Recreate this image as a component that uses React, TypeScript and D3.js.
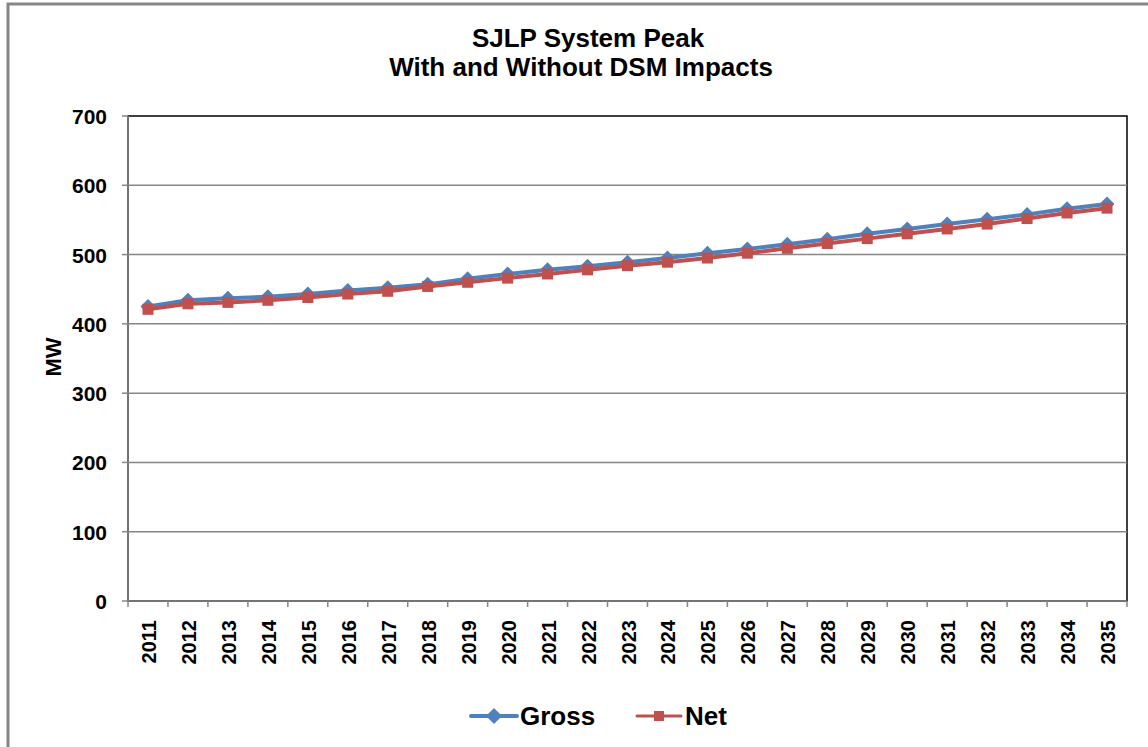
import React from "react";
import * as d3 from "d3";

const years = ["2011","2012","2013","2014","2015","2016","2017","2018","2019","2020","2021","2022","2023","2024","2025","2026","2027","2028","2029","2030","2031","2032","2033","2034","2035"];
const gross = [425,434,437,439,443,448,452,457,465,472,478,483,489,495,502,508,515,522,530,537,544,551,558,566,573];
const net = [421,429,431,434,438,443,447,454,460,466,472,478,484,489,495,502,509,516,523,530,537,544,552,560,567];
const yTicks = [0,100,200,300,400,500,600,700];

const W = 1148, H = 747;
const L = 128, R = 1127, T = 116, B = 601;
const FONT = "'Liberation Sans', Arial, sans-serif";
const BLUE = "#4F81BD";
const RED = "#C0504D";

export default function App() {
  const x = d3.scaleBand<string>().domain(years).range([L, R]);
  const y = d3.scaleLinear().domain([0, 700]).range([B, T]);
  const cx = (d: string) => (x(d) as number) + x.bandwidth() / 2;
  const line = d3.line<number>().x((_, i) => cx(years[i])).y((v) => y(v));
  const diamond = (px: number, py: number, r: number) =>
    `M${px},${py - r}L${px + r},${py}L${px},${py + r}L${px - r},${py}Z`;

  return (
    <svg width={W} height={H} style={{ position: "absolute", left: 0, top: 0, fontFamily: FONT }}>
      <rect x={0} y={0} width={W} height={H} fill="#fff" />
      <rect x={8} y={4} width={W + 20} height={H + 20} fill="none" stroke="#868686" strokeWidth={3} />
      <text x={588} y={47} textAnchor="middle" fontSize={26} fontWeight="bold">SJLP System Peak</text>
      <text x={581} y={76} textAnchor="middle" fontSize={26} fontWeight="bold">With and Without DSM Impacts</text>

      {/* plot border */}
      <rect x={L} y={T} width={R - L} height={B - T} fill="none" stroke="#000" strokeWidth={1.5} />
      {/* gridlines */}
      {yTicks.filter((t) => t > 0 && t < 700).map((t) => (
        <line key={t} x1={L} x2={R} y1={y(t)} y2={y(t)} stroke="#868686" strokeWidth={1.5} />
      ))}
      {/* y axis */}
      <line x1={L} x2={L} y1={T} y2={B} stroke="#868686" strokeWidth={1.5} />
      {yTicks.map((t) => (
        <g key={t}>
          <line x1={L - 6} x2={L} y1={y(t)} y2={y(t)} stroke="#868686" strokeWidth={1.5} />
          <text x={107} y={y(t) + 8} textAnchor="end" fontSize={21} fontWeight="bold">{t}</text>
        </g>
      ))}
      <text transform={`translate(61,${357}) rotate(-90)`} textAnchor="middle" fontSize={22} fontWeight="bold">MW</text>
      {/* x axis */}
      <line x1={L} x2={R} y1={B} y2={B} stroke="#868686" strokeWidth={1.5} />
      {[...years.map((d) => x(d) as number), R].map((px, i) => (
        <line key={i} x1={px} x2={px} y1={B} y2={B + 6} stroke="#868686" strokeWidth={1.5} />
      ))}
      {years.map((d) => (
        <text key={d} transform={`translate(${cx(d) + 8},${620}) rotate(-90)`} textAnchor="end" fontSize={20} fontWeight="bold">{d}</text>
      ))}

      {/* series */}
      <path d={line(gross) || ""} fill="none" stroke={BLUE} strokeWidth={4} strokeLinejoin="round" />
      {gross.map((v, i) => (
        <path key={"g" + i} d={diamond(cx(years[i]), y(v), 7.5)} fill={BLUE} />
      ))}
      <path d={line(net) || ""} fill="none" stroke={RED} strokeWidth={4} strokeLinejoin="round" />
      {net.map((v, i) => (
        <rect key={"n" + i} x={cx(years[i]) - 5.5} y={y(v) - 5.5} width={11} height={11} fill={RED} />
      ))}

      {/* legend */}
      <line x1={471} x2={517} y1={716} y2={716} stroke={BLUE} strokeWidth={4} strokeLinecap="round" />
      <path d={diamond(494, 716, 8)} fill={BLUE} />
      <text x={520} y={725} fontSize={26} fontWeight="bold">Gross</text>
      <line x1={637} x2={681} y1={716} y2={716} stroke={RED} strokeWidth={3} strokeLinecap="round" />
      <rect x={654} y={711} width={10} height={10} fill={RED} />
      <text x={685} y={725} fontSize={26} fontWeight="bold">Net</text>
    </svg>
  );
}
